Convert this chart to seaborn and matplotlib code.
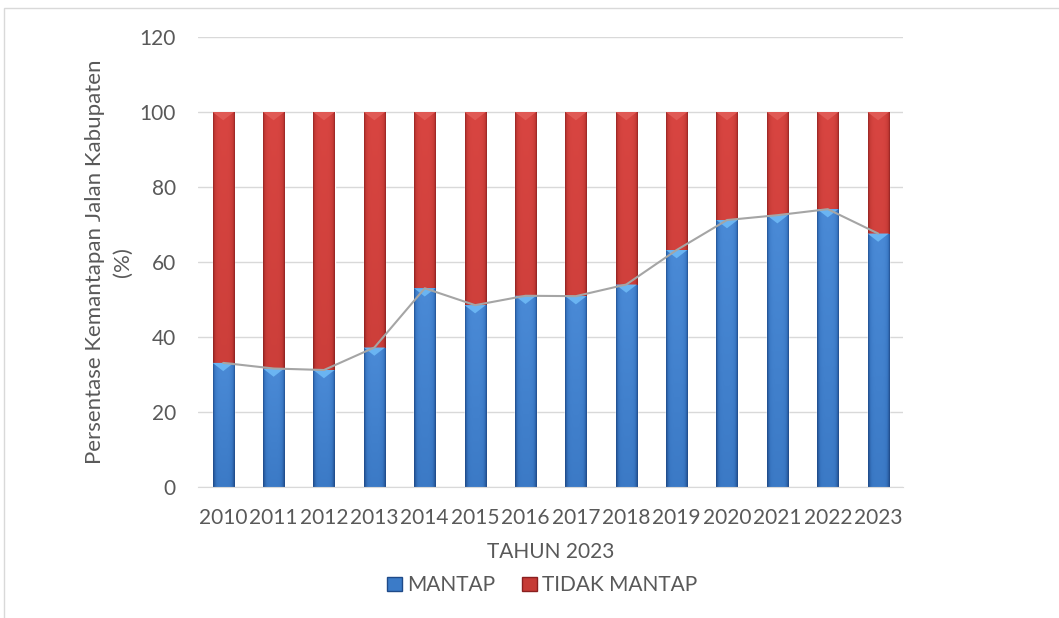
import numpy as np
import pandas as pd
import matplotlib
matplotlib.use('Agg')
import matplotlib.pyplot as plt
import seaborn as sns
from matplotlib.colors import LinearSegmentedColormap
from matplotlib.patches import Rectangle, Polygon, Patch

tahun = ['2010', '2011', '2012', '2013', '2014', '2015', '2016',
         '2017', '2018', '2019', '2020', '2021', '2022', '2023']
mantap = [33.1, 31.6, 31.2, 37.2, 53.0, 48.5, 51.0,
          50.9, 54.0, 63.2, 71.2, 72.5, 74.1, 67.6]
tidak_mantap = [100 - v for v in mantap]

dados = pd.DataFrame({'tahun': tahun, 'mantap': mantap, 'tidak_mantap': tidak_mantap})
dados['total'] = dados['mantap'] + dados['tidak_mantap']

sns.set_style('white')
plt.rcParams['font.family'] = ['Lato', 'DejaVu Sans']
cinza = '#595959'

fig = plt.figure(figsize=(10.59, 6.18), dpi=100)
ax = fig.add_axes([0.187, 0.212, 0.666, 0.728])

largura = 0.42
sns.barplot(x='tahun', y='total', data=dados, color='#c0392f', width=largura,
            saturation=1, ax=ax, zorder=3)
sns.barplot(x='tahun', y='mantap', data=dados, color='#3b7bc8', width=largura,
            saturation=1, ax=ax, zorder=3)

# efeito de gradiente estilo Excel
cm_verm = LinearSegmentedColormap.from_list('v', ['#8a2020', '#c23934', '#d84541'])
cm_azul = LinearSegmentedColormap.from_list('a', ['#1f4a88', '#3876c2', '#4a8ad6'])
n = len(tahun)
for i, p in enumerate(list(ax.patches)):
    x0, y0 = p.get_x(), p.get_y()
    w, h = p.get_width(), p.get_height()
    cmap = cm_verm if i < n else cm_azul
    xx = np.linspace(-1, 1, 40)
    yy = np.linspace(0, 1, 60)[:, None]
    grad = (1 - 0.6 * xx[None, :] ** 4) * (0.72 + 0.28 * yy)
    im = ax.imshow(grad, cmap=cmap, vmin=0.3, vmax=1.0, aspect='auto',
                   extent=[x0, x0 + w, y0, y0 + h], origin='lower', zorder=3.5)
    im.set_clip_path(p)
    topo = y0 + h
    cor_tri = '#e05a55' if i < n else '#6ab4f2'
    tri = Polygon([[x0, topo], [x0 + w, topo], [x0 + w / 2, topo - 2.2]],
                  closed=True, facecolor=cor_tri, edgecolor='none', zorder=3.6)
    ax.add_patch(tri)

sns.lineplot(x=np.arange(n), y=mantap, color='#a5a5a5', linewidth=1.5, ax=ax, zorder=4)

ax.set_xlim(-0.5, n - 0.5)
ax.set_ylim(0, 120)
ax.set_yticks(range(0, 121, 20))
ax.grid(axis='y', color='#d9d9d9', linewidth=1, zorder=0)
ax.set_axisbelow(True)
for s in ['top', 'right', 'left']:
    ax.spines[s].set_visible(False)
ax.spines['bottom'].set_color('#d9d9d9')
ax.spines['bottom'].set_zorder(5)
ax.tick_params(axis='both', length=0, labelsize=15, colors=cinza)
ax.tick_params(axis='y', pad=16)
ax.tick_params(axis='x', pad=15)
ax.set_xlabel('TAHUN 2023', fontsize=15, color=cinza, labelpad=10)
ax.set_ylabel('Persentase Kemantapan Jalan Kabupaten\n(%)', fontsize=16,
              color=cinza, labelpad=5, linespacing=1.45)

# legenda
handles = [Patch(facecolor='#3b7bc8', edgecolor='#1f4a88', label='MANTAP'),
           Patch(facecolor='#c63b36', edgecolor='#8a2020', label='TIDAK MANTAP')]
fig.legend(handles=handles, loc='center', bbox_to_anchor=(0.512, 0.053), ncol=2,
           frameon=False, fontsize=15, labelcolor=cinza, handlelength=0.7,
           handleheight=0.7, handletextpad=0.25, columnspacing=1.3)

# moldura do gráfico
fig.add_artist(Rectangle((4 / 1059, -0.1), 1.2, 1 - 8 / 618 + 0.1,
                         transform=fig.transFigure, fill=False,
                         edgecolor='#d9d9d9', linewidth=1))

fig.savefig('out.png', dpi=100, facecolor='white')
